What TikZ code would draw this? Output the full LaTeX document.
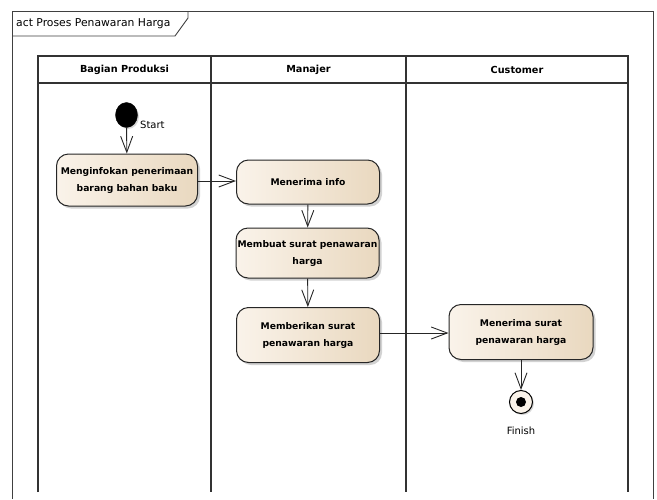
\documentclass[tikz,border=0pt]{standalone}
\usepackage{fontspec}
\setmainfont{DejaVu Sans}
\usetikzlibrary{arrows.meta,shadows,shapes.geometric}
\definecolor{actleft}{HTML}{FAF3EA}
\definecolor{actright}{HTML}{E9D8BF}
\definecolor{framegray}{HTML}{404040}
\tikzset{
  activity/.style={draw=black!85, line width=1pt, rounded corners=12pt,
    left color=actleft, right color=actright,
    drop shadow={shadow xshift=2.5pt, shadow yshift=-2.5pt, opacity=0.35},
    minimum width=143pt, minimum height=52pt, align=center,
    font=\fontsize{9.2}{17}\selectfont\bfseries, inner sep=0pt},
  lanehead/.style={font=\fontsize{9.7}{11}\selectfont\bfseries},
  flow/.style={draw=black!85, line width=0.9pt, -{Straight Barb[length=16pt,width=12pt,line width=0.9pt]}},
  smalltext/.style={font=\fontsize{10}{12}\selectfont},
  laneline/.style={draw=black!80, line width=1.2pt},
}
\begin{document}
\begin{tikzpicture}[x=1pt,y=-1pt]
\useasboundingbox[fill=white] (0,0) rectangle (657,499);

% diagram frame with its name tab
\draw[framegray, line width=0.9pt] (12,499) -- (12,11) -- (653,11) -- (653,499);
\draw[framegray, line width=0.9pt] (12,36) -- (175,36) -- (188,18) -- (188,11);
\node[anchor=west, inner sep=0pt, font=\fontsize{10.8}{12}\selectfont] (title) at (16,23.5) {act Proses Penawaran Harga};

% swimlanes
\draw[laneline] (38,492) -- (38,56) -- (628,56) -- (628,492);
\draw[laneline] (38,83) -- (628,83);
\draw[laneline] (211,56) -- (211,492);
\draw[laneline] (406,56) -- (406,492);
\node[lanehead] (laneA) at (124.5,69.5) {Bagian Produksi};
\node[lanehead] (laneB) at (308.5,69.5) {Manajer};
\node[lanehead] (laneC) at (517,69.5) {Customer};

% initial node
\node[draw=black, fill=black, ellipse, minimum width=22pt, minimum height=25pt, inner sep=0pt,
      drop shadow={shadow xshift=1.5pt, shadow yshift=-1.5pt, opacity=0.3}] (start) at (126.5,115) {};
\node[smalltext, anchor=west, inner sep=0pt] (startlbl) at (140,125) {Start};

% activities
\node[activity, minimum width=141pt] (n1) at (127,180) {Menginfokan penerimaan\\barang bahan baku};
\node[activity, minimum height=44pt] (n2) at (308,182) {Menerima info};
\node[activity, minimum height=50pt] (n3) at (307.5,253) {Membuat surat penawaran\\harga};
\node[activity, minimum height=55pt] (n4) at (308,335) {Memberikan surat\\penawaran harga};
\node[activity, minimum width=144pt, minimum height=55pt] (n5) at (521,332) {Menerima surat\\penawaran harga};

% final node
\node[draw=black, line width=1pt, fill=actleft, circle, minimum size=23pt, inner sep=0pt,
      drop shadow={shadow xshift=1.5pt, shadow yshift=-1.5pt, opacity=0.3}] (finish) at (521,402) {};
\node[fill=black, circle, minimum size=10pt, inner sep=0pt] (finishdot) at (finish.center) {};
\node[smalltext] (finishlbl) at (521,431) {Finish};

% control flows
\draw[flow] (start) -- (n1);
\draw[flow] (n1.east |- 0,181) -- (n2.west |- 0,181);
\draw[flow] (n2) -- (n3);
\draw[flow] (n3) -- (n4);
\draw[flow] (n4.east |- 0,333) -- (n5.west |- 0,333);
\draw[flow] (n5) -- (finish);
\end{tikzpicture}
\end{document}
